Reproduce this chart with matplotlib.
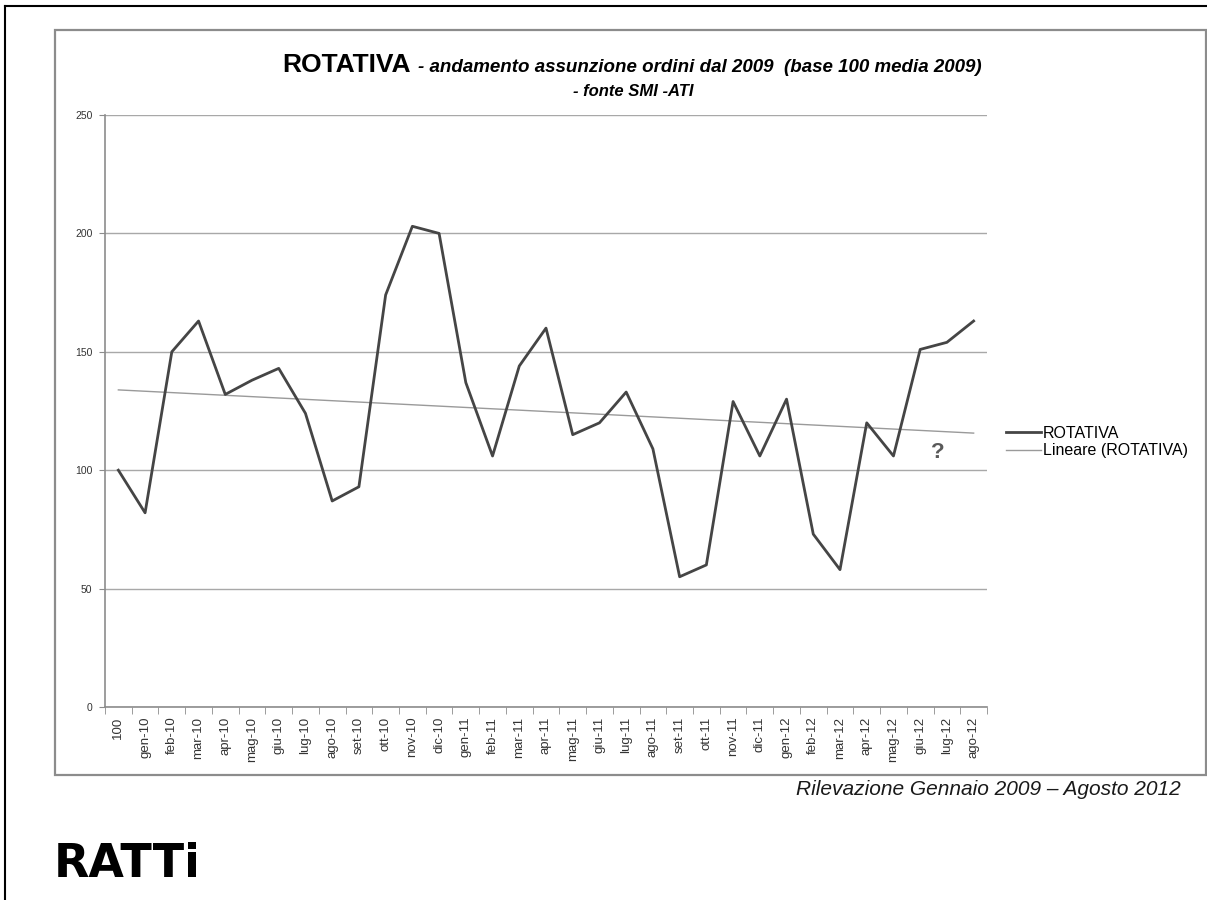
import numpy as np
import matplotlib.pyplot as plt
from matplotlib.lines import Line2D

plt.rcParams['font.family'] = ['Liberation Sans', 'DejaVu Sans']

# monthly order index, base 100 = 2009 average
months = ["100", "gen-10", "feb-10", "mar-10", "apr-10", "mag-10", "giu-10",
          "lug-10", "ago-10", "set-10", "ott-10", "nov-10", "dic-10",
          "gen-11", "feb-11", "mar-11", "apr-11", "mag-11", "giu-11",
          "lug-11", "ago-11", "set-11", "ott-11", "nov-11", "dic-11",
          "gen-12", "feb-12", "mar-12", "apr-12", "mag-12", "giu-12",
          "lug-12", "ago-12"]
rotativa = [100, 82, 150, 163, 132, 138, 143, 124, 87, 93, 174, 203, 200,
            137, 106, 144, 160, 115, 120, 133, 109, 55, 60, 129, 106,
            130, 73, 58, 120, 106, 151, 154, 163]
y_ticks = [0, 50, 100, 150, 200, 250]

W, H = 1207, 900
fig = plt.figure(figsize=(W / 100, H / 100), dpi=100)


def fx(px):
    return px / W


def fy(py):
    return 1 - py / H


# page border (top and left) and chart frame
fig.add_artist(Line2D([fx(5), 1.0], [fy(6), fy(6)], color="black", lw=1.5))
fig.add_artist(Line2D([fx(5), fx(5)], [fy(6), 0.0], color="black", lw=1.5))
frame = plt.Rectangle((fx(55), fy(775)), fx(1206) - fx(55), fy(30) - fy(775),
                      transform=fig.transFigure, fill=False,
                      edgecolor="#8c8c8c", lw=1.6)
fig.add_artist(frame)

ax = fig.add_axes([fx(105), fy(707), fx(987) - fx(105), fy(115) - fy(707)])

x = np.arange(len(months))
ax.plot(x, rotativa, color="#454545", lw=2.0, label="ROTATIVA", zorder=3)

# linear trend of the series
slope, intercept = np.polyfit(x, rotativa, 1)
ax.plot(x, slope * x + intercept, color="#9a9a9a", lw=1.0,
        label="Lineare (ROTATIVA)", zorder=2)

ax.set_xlim(-0.5, len(months) - 0.5)
ax.set_ylim(0, 250)
ax.set_yticks(y_ticks)
ax.set_yticklabels([str(v) for v in y_ticks], fontsize=7.5, color="#333333")
ax.yaxis.grid(True, color="#a8a8a8", lw=1.0)
ax.set_axisbelow(True)

ax.set_xticks(x)
ax.set_xticklabels(months, rotation=90, fontsize=9.5, color="#333333")
ax.set_xticks(np.arange(-0.5, len(months), 1), minor=True)
ax.tick_params(axis="x", which="major", length=0, pad=7)
ax.tick_params(axis="x", which="minor", length=5, color="#8c8c8c")
ax.tick_params(axis="y", length=4, color="#8c8c8c", pad=5)

for side in ("top", "right"):
    ax.spines[side].set_visible(False)
for side in ("left", "bottom"):
    ax.spines[side].set_color("#8c8c8c")
    ax.spines[side].set_linewidth(1.2)

ax.text(30.65, 103, "?", fontsize=16, fontweight="bold", color="#5a5a5a",
        ha="center", va="bottom")

fig.legend(loc="upper left", bbox_to_anchor=(fx(1006), fy(426)),
           frameon=False, fontsize=11.5, handlelength=2.2, handletextpad=0.1,
           labelspacing=0.15, borderaxespad=0, borderpad=0)

# title
fig.text(fx(411), fy(72), "ROTATIVA", fontsize=19, fontweight="bold",
         ha="right", va="baseline", color="black")
fig.text(fx(418), fy(72),
         "- andamento assunzione ordini dal 2009  (base 100 media 2009)",
         fontsize=13.5, fontweight="bold", fontstyle="italic",
         ha="left", va="baseline")
fig.text(fx(633), fy(96), "- fonte SMI -ATI", fontsize=12,
         fontweight="bold", fontstyle="italic", ha="center", va="baseline")

fig.text(fx(1181), fy(795), "Rilevazione Gennaio 2009 \u2013 Agosto 2012",
         fontsize=15, fontstyle="italic", ha="right", va="baseline",
         color="#1a1a1a")

fig.text(fx(54), fy(877), "RATTi", fontsize=33, fontweight="heavy",
         family=["DejaVu Sans"], ha="left", va="baseline", color="black")

fig.savefig("out.png", dpi=100)
